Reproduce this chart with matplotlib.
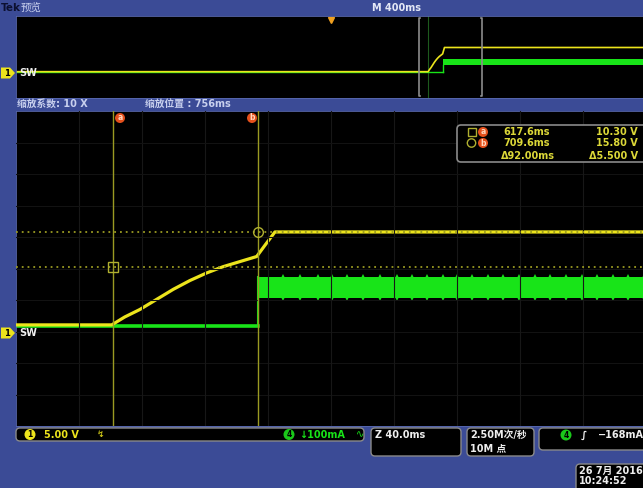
import matplotlib.pyplot as plt
from matplotlib.patches import FancyBboxPatch, Circle, Polygon

plt.rcParams['font.family'] = ['DejaVu Sans', 'Noto Sans CJK SC']

# Channel 1 (SW node), volts vs time in ms (trigger at 0)
ch1_t = [-2000, 600.0, 616.8, 625.0, 634.7, 645.3, 655.9, 666.5, 677.1, 687.6, 698.2, 708.8, 714.1, 720.4, 2000]
ch1_v = [1.05, 1.05, 1.05, 2.3, 3.5, 5.1, 6.7, 8.1, 9.3, 10.3, 11.1, 11.9, 13.7, 15.8, 15.8]

# Channel 4 (current), mA
ch4_t = [-2000, 709.6]
ch4_ma = [0, 0]
band_t = [709.6, 2000]
band_low = [90, 90]
band_high = [155, 155]
ripple_t = [725.5, 736.3, 747.7, 756.6, 766.2, 776.3, 787.1, 797.9, 807.4, 817.0, 827.1, 836.0,
            845.5, 855.7, 865.2, 875.4, 885.5, 895.0, 905.2, 915.4, 924.9, 935.0, 944.6, 955.0]

# Cursors
cursor_t = [617.6, 709.6]
cursor_v = [10.30, 15.80]

# Scope settings
ch1_scale = 5.0      # V/div
ch4_scale = 100      # mA/div
ch4_pos = 0.17       # div
main_tdiv = 40.0     # ms/div
ov_tdiv = 400.0      # ms/div
zoom_pos = 756       # ms

W, H = 643, 488
BLUE = '#3b4b96'
YEL = '#ece41c'
GRN = '#18e418'
OLIVE = '#9a9a22'


def rect(x0, y0, x1, y1):
    return [x0 / W, 1 - y1 / H, (x1 - x0) / W, (y1 - y0) / H]


def ch4_disp(vals):
    return [(v / ch4_scale + ch4_pos) * ch1_scale for v in vals]


fig = plt.figure(figsize=(W / 100, H / 100), dpi=100, facecolor=BLUE)

# ---------- overview panel ----------
ax_ov = fig.add_axes(rect(16, 16, 646, 98))
ax_ov.set_facecolor('black')
ax_ov.set_xlim(-5 * ov_tdiv, 5 * ov_tdiv)
ax_ov.set_ylim(-3 * ch1_scale, 7 * ch1_scale)
ax_ov.set_xticks([])
ax_ov.set_yticks([])
for s in ax_ov.spines.values():
    s.set_color('#5a6ab0')
    s.set_linewidth(0.6)
ax_ov.axvline(cursor_t[0], color='#1d5a1d', lw=0.8)
ax_ov.plot(ch4_t, ch4_disp(ch4_ma), color=GRN, lw=1.0)
ax_ov.fill_between(band_t, ch4_disp(band_low), ch4_disp(band_high), color=GRN, lw=0)
ax_ov.plot([band_t[0], band_t[0]], [ch4_disp(ch4_ma)[-1], ch4_disp(band_low)[0]], color=GRN, lw=1.0)
ax_ov.plot(ch1_t, ch1_v, color=YEL, lw=1.2)
zl, zr = zoom_pos - 5 * main_tdiv, zoom_pos + 5 * main_tdiv
tr = ax_ov.get_xaxis_transform()
for x, d in [(zl, 1), (zr, -1)]:
    ax_ov.plot([x + d * 6, x, x, x + d * 6], [0.97, 0.97, 0.03, 0.03], color='#8c8c8c', lw=1.2, transform=tr)
ax_ov.plot([0], [0.95], marker='v', color='#f0a020', ms=5, transform=tr, clip_on=False)

# ---------- main (zoomed) panel ----------
ax = fig.add_axes(rect(16, 111, 646, 426))
ax.set_facecolor('black')
ax.set_xlim(zl, zr)
ax.set_ylim(-3 * ch1_scale, 7 * ch1_scale)
ax.set_xticks([])
ax.set_yticks([])
for s in ax.spines.values():
    s.set_color('#5a6ab0')
    s.set_linewidth(0.6)

ax.plot(ch4_t, ch4_disp(ch4_ma), color=GRN, lw=2.6, zorder=2)
ax.fill_between(band_t, ch4_disp(band_low), ch4_disp(band_high), color=GRN, lw=0, zorder=2)
ax.plot([band_t[0], band_t[0]], [ch4_disp(ch4_ma)[-1], ch4_disp(band_high)[0]], color=GRN, lw=1.5, zorder=2)
ax.plot(ripple_t, ch4_disp([band_high[0]] * len(ripple_t)), ls='none', marker='^', ms=4, color=GRN, mew=0, zorder=2)
ax.plot(ripple_t, ch4_disp([band_low[0]] * len(ripple_t)), ls='none', marker='v', ms=4, color=GRN, mew=0, zorder=2)
ax.plot(ch1_t, ch1_v, color=YEL, lw=2.3, zorder=3, solid_joinstyle='round', solid_capstyle='round')

# grid drawn over the traces, as on the scope
for k in range(1, 10):
    ax.axvline(zl + k * main_tdiv, color='#171717', lw=0.8, zorder=4)
    ax.axhline((k - 3) * ch1_scale, color='#121212', lw=0.8, zorder=4)

# cursors
for t in cursor_t:
    ax.axvline(t, color=OLIVE, lw=1.0, zorder=5)
for v in cursor_v:
    ax.axhline(v, color=OLIVE, lw=1.3, ls=(0, (1, 2.2)), zorder=5)
ax.plot(cursor_t[0], cursor_v[0], marker='s', ms=6.5, mfc='none', mec='#b0b030', mew=1.0, zorder=6)
ax.plot(cursor_t[1], cursor_v[1], marker='o', ms=7, mfc='none', mec='#b0b030', mew=1.0, zorder=6)

# ---------- UI overlay (pixel coordinates) ----------
ui = fig.add_axes([0, 0, 1, 1], zorder=10)
ui.set_xlim(0, W)
ui.set_ylim(H, 0)
ui.axis('off')
ui.patch.set_alpha(0)

LIGHT = '#c8d0ee'
WHITE = '#eeeeee'

ui.text(1, 8, 'Tek', color='#0c1030', fontsize=7.5, fontweight='bold', va='center')
ui.text(21, 8, '预览', color=LIGHT, fontsize=7.5, va='center')
ui.text(396, 8, f'M {ov_tdiv:.0f}ms', color='#e4e8f6', fontsize=7, fontweight='bold', va='center', ha='center')
ui.text(17, 104, f'缩放系数: {ov_tdiv / main_tdiv:.0f} X', color=LIGHT, fontsize=7, fontweight='bold', va='center')
ui.text(145, 104, f'缩放位置 : {zoom_pos}ms', color=LIGHT, fontsize=7, fontweight='bold', va='center')


def ch_marker(y):
    ui.add_patch(Polygon([(1, y - 5.5), (10, y - 5.5), (15, y), (10, y + 5.5), (1, y + 5.5)],
                         closed=True, fc=YEL, ec='none'))
    ui.text(7, y, '1', color='black', fontsize=6, fontweight='bold', ha='center', va='center')
    ui.text(19, y, 'SW', color=WHITE, fontsize=7, fontweight='bold', va='center')


ch_marker(73)
ch_marker(333)


def badge(x, y, label, fc, tc='#ffd8c0', r=5):
    ui.add_patch(Circle((x, y), r, fc=fc, ec='none'))
    ui.text(x, y, label, color=tc, fontsize=5.5, fontweight='bold', ha='center', va='center')


# cursor flags at the top of the main panel
badge(120, 118, 'a', '#e4501c')
badge(252, 118, 'b', '#e4501c')

# cursor readout
ui.add_patch(FancyBboxPatch((457, 125), 200, 37, boxstyle='round,pad=0,rounding_size=4',
                            fc='black', ec='#8a8a8a', lw=1.2))
CT = '#dcd838'
ui.add_patch(plt.Rectangle((467.5, 128), 8, 8, fc='none', ec='#b0b030', lw=1))
ui.add_patch(Circle((471.5, 143), 4.2, fc='none', ec='#b0b030', lw=1))
badge(483, 132, 'a', '#e4501c')
badge(483, 143, 'b', '#e4501c')
dt = cursor_t[1] - cursor_t[0]
dv = cursor_v[1] - cursor_v[0]
for row, (t, v) in enumerate(zip(cursor_t, cursor_v)):
    y = 132 + row * 11.5
    ui.text(503, y, f'{t:.1f}ms', color=CT, fontsize=7, fontweight='bold', va='center')
    ui.text(638, y, f'{v:.2f} V', color=CT, fontsize=7, fontweight='bold', va='center', ha='right')
ui.text(501, 156, f'Δ{dt:.2f}ms', color=CT, fontsize=7, fontweight='bold', va='center')
ui.text(638, 156, f'Δ{dv:.3f} V', color=CT, fontsize=7, fontweight='bold', va='center', ha='right')


# bottom status boxes
def box(x0, y0, x1, y1):
    ui.add_patch(FancyBboxPatch((x0, y0), x1 - x0, y1 - y0, boxstyle='round,pad=0,rounding_size=4',
                                fc='black', ec='#8a8a8a', lw=1.0))


box(16, 428, 364, 441)
badge(30, 434.5, '1', YEL, tc='black', r=5.5)
ui.text(44, 434.5, f'{ch1_scale:.2f} V', color=YEL, fontsize=7, fontweight='bold', va='center')
ui.text(97, 434.5, '↯', color=YEL, fontsize=6.5, va='center')
badge(289, 434.5, '4', '#1ac81a', tc='black', r=5.5)
ui.text(299, 434.5, f'↓{ch4_scale}mA', color=GRN, fontsize=7, fontweight='bold', va='center')
ui.text(356, 434.5, '∿', color=GRN, fontsize=7, va='center')

box(371, 428, 461, 456)
ui.text(375, 435, f'Z {main_tdiv:.1f}ms', color=WHITE, fontsize=7, fontweight='bold', va='center')

box(467, 428, 534, 456)
ui.text(470, 435, '2.50M次/秒', color=WHITE, fontsize=7, fontweight='bold', va='center')
ui.text(470, 448, '10M 点', color=WHITE, fontsize=7, fontweight='bold', va='center')

box(539, 428, 660, 450)
badge(566, 435, '4', '#1ac81a', tc='black', r=5.5)
ui.text(581, 435, '∫', color=WHITE, fontsize=7.5, fontweight='bold', va='center')
ui.text(598, 435, '−168mA', color=WHITE, fontsize=7, fontweight='bold', va='center')

box(576, 464, 660, 500)
ui.text(579, 471, '26 7月 2016', color=WHITE, fontsize=7, fontweight='bold', va='center')
ui.text(579, 481, '10:24:52', color=WHITE, fontsize=7, fontweight='bold', va='center')

fig.savefig('out.png', dpi=100, facecolor=BLUE)
